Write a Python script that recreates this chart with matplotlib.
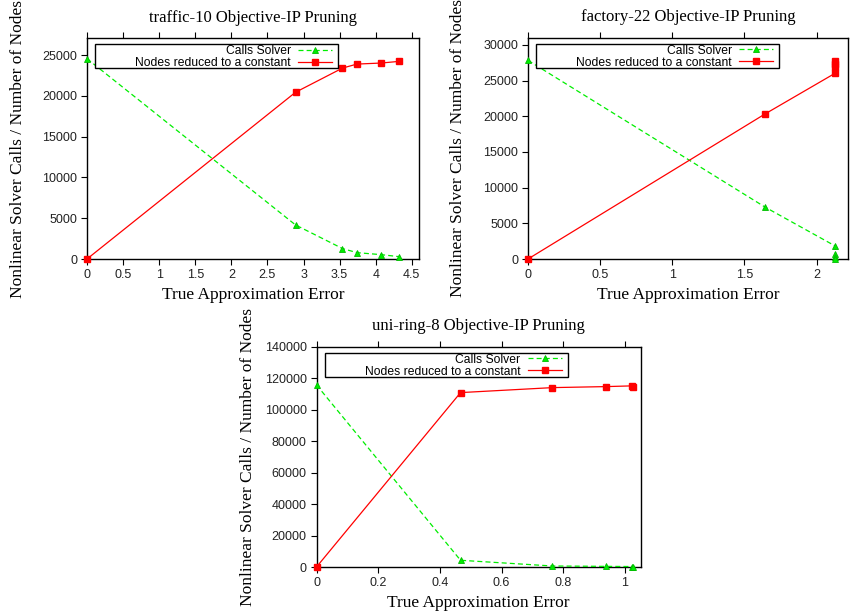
import matplotlib
matplotlib.use('Agg')
import matplotlib.pyplot as plt
from matplotlib.patches import Rectangle

W, H = 854, 615

# ---------------- data ----------------
traffic_x = [0, 2.89, 3.54, 3.74, 4.08, 4.32]
traffic_calls = [24550, 4170, 1280, 780, 530, 290]
traffic_nodes = [0, 20440, 23400, 23890, 24020, 24220]

factory_calls_x = [0, 1.643, 2.131, 2.131, 2.131, 2.131]
factory_calls = [27830, 7270, 1800, 700, 250, 0]
factory_nodes_x = [0, 1.643, 2.131, 2.131, 2.131, 2.131]
factory_nodes = [0, 20320, 26050, 26950, 27350, 27700]

ring_x = [0, 0.467, 0.765, 0.94, 1.022, 1.027]
ring_calls = [115700, 4270, 640, 400, 300, 300]
ring_nodes = [0, 110830, 114000, 114650, 115100, 114650]

titles = ["traffic-10 Objective-IP Pruning",
          "factory-22 Objective-IP Pruning",
          "uni-ring-8 Objective-IP Pruning"]
xlabel = "True Approximation Error"
ylabel = "Nonlinear Solver Calls / Number of Nodes"
legend_labels = ["Calls Solver", "Nodes reduced to a constant"]

traffic_xticks = [0, 0.5, 1, 1.5, 2, 2.5, 3, 3.5, 4, 4.5]
traffic_xticklabels = ["0", "0.5", "1", "1.5", "2", "2.5", "3", "3.5", "4", "4.5"]
traffic_yticks = [0, 5000, 10000, 15000, 20000, 25000]
factory_xticks = [0, 0.5, 1, 1.5, 2]
factory_xticklabels = ["0", "0.5", "1", "1.5", "2"]
factory_yticks = [0, 5000, 10000, 15000, 20000, 25000, 30000]
ring_xticks = [0, 0.2, 0.4, 0.6, 0.8, 1.0]
ring_xticklabels = ["0", "0.2", "0.4", "0.6", "0.8", "1"]
ring_yticks = [0, 20000, 40000, 60000, 80000, 100000, 120000, 140000]

GREEN = '#00ee00'
RED = '#ff0000'
SERIF = ['Liberation Serif', 'DejaVu Serif']
SANS = ['Liberation Sans', 'DejaVu Sans']

plt.rcParams['font.family'] = SANS

fig = plt.figure(figsize=(W / 100, H / 100), dpi=100)


def make_axes(left, top, right, bottom):
    return fig.add_axes([left / W, (H - bottom) / H, (right - left) / W, (bottom - top) / H])


def draw(box, cx, cy, nx, ny, xlim, ylim, xticks, xtl, yticks, title,
         title_base, xlabel_c, ylabel_c):
    left, top, right, bottom = box
    ax = make_axes(*box)
    aw, ah = right - left, bottom - top
    l1, = ax.plot(cx, cy, color=GREEN, lw=0.9, dashes=(4, 2.5), marker='^',
                  ms=5, mfc=GREEN, mec='#00bb00', mew=0.6, clip_on=False, zorder=3)
    l2, = ax.plot(nx, ny, color=RED, lw=0.9, marker='s', ms=4.6, mfc=RED,
                  mec=RED, clip_on=False, zorder=4)
    ax.set_xlim(*xlim)
    ax.set_ylim(*ylim)
    ax.set_xticks(xticks)
    ax.set_xticklabels(xtl)
    ax.set_yticks(yticks)
    ax.set_yticklabels([str(v) for v in yticks])
    ax.tick_params(direction='out', length=4, width=0.8, top=True, right=False,
                   labelsize=9, labelcolor='#222222', pad=3)
    for s in ax.spines.values():
        s.set_linewidth(1.0)
        s.set_color('black')
    ax.set_title(title, fontsize=12, family=SERIF, va='baseline', pad=0,
                 y=1 + (top - title_base) / ah)
    ax.set_xlabel(xlabel, fontsize=12.5, family=SERIF, va='center')
    ax.xaxis.set_label_coords(0.5, -(xlabel_c - bottom) / ah)
    ax.set_ylabel(ylabel, fontsize=12.5, family=SERIF, va='center')
    ax.yaxis.set_label_coords(-(left - ylabel_c) / aw, 0.5)
    # legend frame (gnuplot style key box)
    bl, bt, bw, bh = left + 8, top + 6, 243, 24
    ax.add_patch(Rectangle(((bl - left) / aw, 1 - (bt + bh - top) / ah), bw / aw, bh / ah,
                           transform=ax.transAxes, fill=True, facecolor='white',
                           edgecolor='black', lw=1.0, zorder=5, clip_on=False))
    fpx = 8.7 * 100 / 72
    leg = ax.legend([l1, l2], legend_labels, loc='upper right',
                    bbox_to_anchor=((bl + 237 - left) / aw, 1 - (bt + 1.0 - top) / ah),
                    frameon=False, markerfirst=False, numpoints=1, fontsize=8.7,
                    handlelength=34 / fpx, handletextpad=7 / fpx, borderpad=0,
                    borderaxespad=0, labelspacing=0.0)
    leg.set_zorder(6)
    return ax


draw((87, 38.3, 419, 259), traffic_x, traffic_calls, traffic_x, traffic_nodes,
     (0, 4.6), (0, 27050), traffic_xticks, traffic_xticklabels, traffic_yticks,
     titles[0], 21.5, 295, 18)
draw((528, 37.7, 848.3, 259), factory_calls_x, factory_calls, factory_nodes_x, factory_nodes,
     (0, 2.22), (0, 31000), factory_xticks, factory_xticklabels, factory_yticks,
     titles[1], 21.5, 295, 458)
draw((316.5, 346.7, 640.7, 567), ring_x, ring_calls, ring_x, ring_nodes,
     (0, 1.051), (0, 140000), ring_xticks, ring_xticklabels, ring_yticks,
     titles[2], 330, 603, 248)

fig.savefig('out.png', dpi=100)
